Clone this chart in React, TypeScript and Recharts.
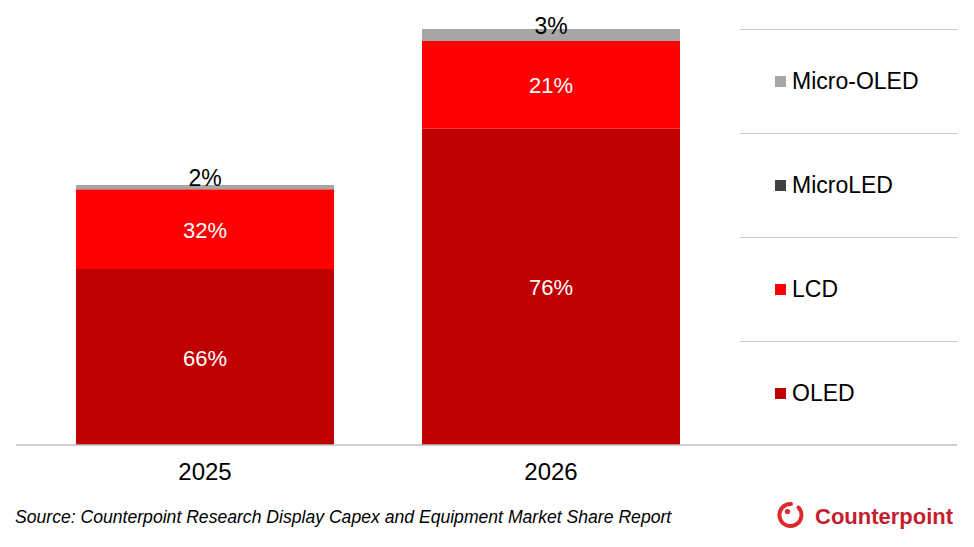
import { BarChart, Bar, XAxis, YAxis, LabelList } from 'recharts';

const years = ['2025', '2026'];
const oled = [42.3, 76];
const lcd = [19.2, 21.1];
const microLed = [0, 0];
const microOled = [1, 2.9];

const oledLabels = ['66%', '76%'];
const lcdLabels = ['32%', '21%'];
const microOledLabels = ['2%', '3%'];

const COLORS = {
  oled: '#c00000',
  lcd: '#ff0000',
  microLed: '#404040',
  microOled: '#a6a6a6',
};

const FONT = '"Liberation Sans", Arial, sans-serif';

const chartData = years.map((year, i) => ({
  year,
  oled: oled[i],
  lcd: lcd[i],
  microLed: microLed[i],
  microOled: microOled[i],
  oledLabel: oledLabels[i],
  lcdLabel: lcdLabels[i],
  microOledLabel: microOledLabels[i],
}));

const legendItems = [
  { name: 'Micro-OLED', color: COLORS.microOled },
  { name: 'MicroLED', color: COLORS.microLed },
  { name: 'LCD', color: COLORS.lcd },
  { name: 'OLED', color: COLORS.oled },
];

const insideLabel = (props: any) => {
  const { x, y, width, height, value } = props;
  if (!value) return null;
  return (
    <text
      x={x + width / 2}
      y={y + height / 2 + 1}
      textAnchor="middle"
      dominantBaseline="central"
      fill="#ffffff"
      fontSize={22}
      fontFamily={FONT}
    >
      {value}
    </text>
  );
};

const topLabel = (props: any) => {
  const { x, y, width, height, value } = props;
  if (!value) return null;
  return (
    <text
      x={x + width / 2}
      y={y + height / 2 - 9}
      textAnchor="middle"
      dominantBaseline="central"
      fill="#000000"
      fontSize={23}
      fontFamily={FONT}
    >
      {value}
    </text>
  );
};

const YearTick = (props: any) => {
  const { x, y, payload } = props;
  return (
    <text x={x} y={y} dy={27} textAnchor="middle" fill="#000" fontSize={24} fontFamily={FONT}>
      {payload.value}
    </text>
  );
};

export default function App() {
  return (
    <div style={{ position: 'absolute', left: 0, top: 0, width: 974, height: 547, background: '#fff', fontFamily: FONT }}>
      <BarChart
        width={974}
        height={547}
        data={chartData}
        margin={{ top: 29, right: 17, left: 16, bottom: 62 }}
        barCategoryGap={44}
      >
        <XAxis
          dataKey="year"
          height={40}
          padding={{ left: 16, right: 233 }}
          axisLine={{ stroke: '#bfbfbf', strokeWidth: 1.5 }}
          tickLine={false}
          tick={<YearTick />}
        />
        <YAxis hide domain={[0, 100]} />
        <Bar dataKey="oled" stackId="a" fill={COLORS.oled} isAnimationActive={false}>
          <LabelList dataKey="oledLabel" content={insideLabel} />
        </Bar>
        <Bar dataKey="lcd" stackId="a" fill={COLORS.lcd} isAnimationActive={false}>
          <LabelList dataKey="lcdLabel" content={insideLabel} />
        </Bar>
        <Bar dataKey="microLed" stackId="a" fill={COLORS.microLed} isAnimationActive={false} />
        <Bar dataKey="microOled" stackId="a" fill={COLORS.microOled} isAnimationActive={false}>
          <LabelList dataKey="microOledLabel" content={topLabel} />
        </Bar>
      </BarChart>

      {/* Legend */}
      <div style={{ position: 'absolute', left: 740, top: 29, width: 217 }}>
        {legendItems.map(item => (
          <div
            key={item.name}
            style={{
              height: 104,
              borderTop: '1.5px solid #c8c8c8',
              boxSizing: 'border-box',
              display: 'flex',
              alignItems: 'center',
              paddingLeft: 35,
              fontSize: 23,
              color: '#000',
            }}
          >
            <div style={{ width: 11, height: 11, background: item.color, marginRight: 6 }} />
            {item.name}
          </div>
        ))}
      </div>

      {/* Source */}
      <div style={{ position: 'absolute', left: 15, top: 507, fontSize: 17.6, fontStyle: 'italic', color: '#000', whiteSpace: 'nowrap' }}>
        Source: Counterpoint Research Display Capex and Equipment Market Share Report
      </div>

      {/* Logo */}
      <svg style={{ position: 'absolute', left: 776, top: 500 }} width={198} height={32}>
        <path
          d="M 22.5 7.5 A 11 11 0 1 1 15 4"
          fill="none"
          stroke="#e0282e"
          strokeWidth={4}
          strokeLinecap="round"
        />
        <circle cx={11.5} cy={11.5} r={2.6} fill="#e0282e" />
        <text x={39} y={24} fontSize={22} fontWeight="bold" fill="#c41e2e" fontFamily={FONT}>
          Counterpoint
        </text>
      </svg>
    </div>
  );
}
